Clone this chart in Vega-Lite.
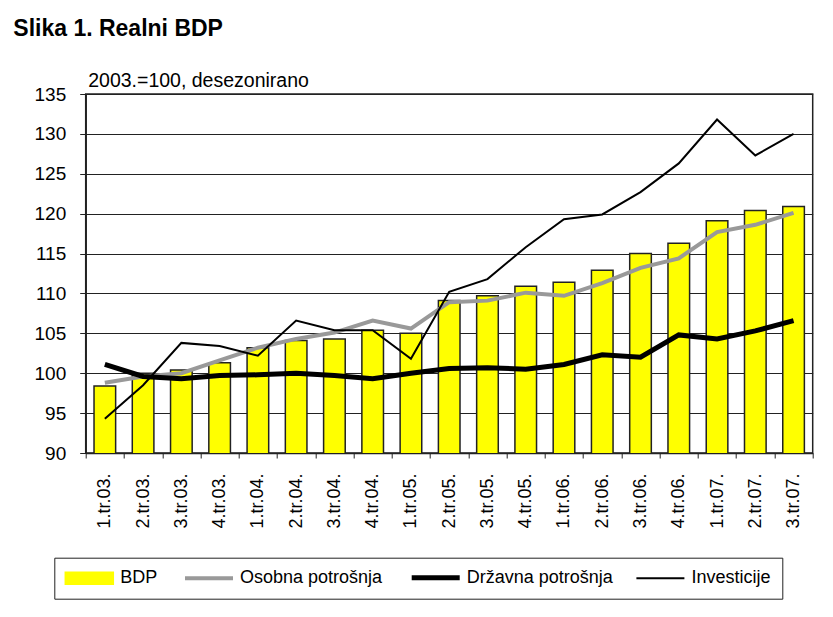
{
  "$schema": "https://vega.github.io/schema/vega-lite/v6.json",
  "width": 727,
  "height": 359,
  "autosize": {"type": "none"},
  "padding": {"left": 85.7, "top": 94, "right": 20.3, "bottom": 164},
  "background": "white",
  "title": {
    "text": "Slika 1. Realni BDP",
    "anchor": "start",
    "frame": "group",
    "font": "Liberation Sans",
    "fontSize": 23,
    "fontWeight": "bold",
    "color": "black",
    "baseline": "alphabetic",
    "dx": -72.4,
    "offset": 11
  },
  "data": {
    "values": [
      {"q": "1.tr.03.", "series": "BDP", "value": 98.4},
      {"q": "2.tr.03.", "series": "BDP", "value": 100.0},
      {"q": "3.tr.03.", "series": "BDP", "value": 100.4},
      {"q": "4.tr.03.", "series": "BDP", "value": 101.3},
      {"q": "1.tr.04.", "series": "BDP", "value": 103.2},
      {"q": "2.tr.04.", "series": "BDP", "value": 104.1},
      {"q": "3.tr.04.", "series": "BDP", "value": 104.3},
      {"q": "4.tr.04.", "series": "BDP", "value": 105.4},
      {"q": "1.tr.05.", "series": "BDP", "value": 105.0},
      {"q": "2.tr.05.", "series": "BDP", "value": 109.1},
      {"q": "3.tr.05.", "series": "BDP", "value": 109.7},
      {"q": "4.tr.05.", "series": "BDP", "value": 110.9},
      {"q": "1.tr.06.", "series": "BDP", "value": 111.4},
      {"q": "2.tr.06.", "series": "BDP", "value": 112.9},
      {"q": "3.tr.06.", "series": "BDP", "value": 115.0},
      {"q": "4.tr.06.", "series": "BDP", "value": 116.3},
      {"q": "1.tr.07.", "series": "BDP", "value": 119.1},
      {"q": "2.tr.07.", "series": "BDP", "value": 120.4},
      {"q": "3.tr.07.", "series": "BDP", "value": 120.9},
      {"q": "1.tr.03.", "series": "Osobna potrošnja", "value": 98.8},
      {"q": "2.tr.03.", "series": "Osobna potrošnja", "value": 99.6},
      {"q": "3.tr.03.", "series": "Osobna potrošnja", "value": 100.0},
      {"q": "4.tr.03.", "series": "Osobna potrošnja", "value": 101.6},
      {"q": "1.tr.04.", "series": "Osobna potrošnja", "value": 103.2},
      {"q": "2.tr.04.", "series": "Osobna potrošnja", "value": 104.3},
      {"q": "3.tr.04.", "series": "Osobna potrošnja", "value": 105.1},
      {"q": "4.tr.04.", "series": "Osobna potrošnja", "value": 106.6},
      {"q": "1.tr.05.", "series": "Osobna potrošnja", "value": 105.6},
      {"q": "2.tr.05.", "series": "Osobna potrošnja", "value": 108.9},
      {"q": "3.tr.05.", "series": "Osobna potrošnja", "value": 109.1},
      {"q": "4.tr.05.", "series": "Osobna potrošnja", "value": 110.1},
      {"q": "1.tr.06.", "series": "Osobna potrošnja", "value": 109.7},
      {"q": "2.tr.06.", "series": "Osobna potrošnja", "value": 111.3},
      {"q": "3.tr.06.", "series": "Osobna potrošnja", "value": 113.2},
      {"q": "4.tr.06.", "series": "Osobna potrošnja", "value": 114.4},
      {"q": "1.tr.07.", "series": "Osobna potrošnja", "value": 117.7},
      {"q": "2.tr.07.", "series": "Osobna potrošnja", "value": 118.6},
      {"q": "3.tr.07.", "series": "Osobna potrošnja", "value": 120.1},
      {"q": "1.tr.03.", "series": "Državna potrošnja", "value": 101.1},
      {"q": "2.tr.03.", "series": "Državna potrošnja", "value": 99.6},
      {"q": "3.tr.03.", "series": "Državna potrošnja", "value": 99.3},
      {"q": "4.tr.03.", "series": "Državna potrošnja", "value": 99.7},
      {"q": "1.tr.04.", "series": "Državna potrošnja", "value": 99.8},
      {"q": "2.tr.04.", "series": "Državna potrošnja", "value": 100.0},
      {"q": "3.tr.04.", "series": "Državna potrošnja", "value": 99.7},
      {"q": "4.tr.04.", "series": "Državna potrošnja", "value": 99.3},
      {"q": "1.tr.05.", "series": "Državna potrošnja", "value": 100.0},
      {"q": "2.tr.05.", "series": "Državna potrošnja", "value": 100.6},
      {"q": "3.tr.05.", "series": "Državna potrošnja", "value": 100.7},
      {"q": "4.tr.05.", "series": "Državna potrošnja", "value": 100.5},
      {"q": "1.tr.06.", "series": "Državna potrošnja", "value": 101.1},
      {"q": "2.tr.06.", "series": "Državna potrošnja", "value": 102.3},
      {"q": "3.tr.06.", "series": "Državna potrošnja", "value": 102.0},
      {"q": "4.tr.06.", "series": "Državna potrošnja", "value": 104.8},
      {"q": "1.tr.07.", "series": "Državna potrošnja", "value": 104.3},
      {"q": "2.tr.07.", "series": "Državna potrošnja", "value": 105.3},
      {"q": "3.tr.07.", "series": "Državna potrošnja", "value": 106.6},
      {"q": "1.tr.03.", "series": "Investicije", "value": 94.3},
      {"q": "2.tr.03.", "series": "Investicije", "value": 98.5},
      {"q": "3.tr.03.", "series": "Investicije", "value": 103.8},
      {"q": "4.tr.03.", "series": "Investicije", "value": 103.4},
      {"q": "1.tr.04.", "series": "Investicije", "value": 102.2},
      {"q": "2.tr.04.", "series": "Investicije", "value": 106.6},
      {"q": "3.tr.04.", "series": "Investicije", "value": 105.4},
      {"q": "4.tr.04.", "series": "Investicije", "value": 105.4},
      {"q": "1.tr.05.", "series": "Investicije", "value": 101.8},
      {"q": "2.tr.05.", "series": "Investicije", "value": 110.2},
      {"q": "3.tr.05.", "series": "Investicije", "value": 111.8},
      {"q": "4.tr.05.", "series": "Investicije", "value": 115.8},
      {"q": "1.tr.06.", "series": "Investicije", "value": 119.3},
      {"q": "2.tr.06.", "series": "Investicije", "value": 119.9},
      {"q": "3.tr.06.", "series": "Investicije", "value": 122.7},
      {"q": "4.tr.06.", "series": "Investicije", "value": 126.3},
      {"q": "1.tr.07.", "series": "Investicije", "value": 131.8},
      {"q": "2.tr.07.", "series": "Investicije", "value": 127.3},
      {"q": "3.tr.07.", "series": "Investicije", "value": 130.0}
    ]
  },
  "encoding": {
    "x": {
      "field": "q",
      "type": "nominal",
      "sort": null,
      "scale": {"paddingInner": 0, "paddingOuter": 0},
      "axis": {
        "title": null,
        "labelAngle": -90,
        "labelFontSize": 18,
        "labelPadding": 15,
        "labelColor": "black",
        "labelOverlap": false,
        "tickSize": 5,
        "tickBand": "extent",
        "tickColor": "#222",
        "domainColor": "#222",
        "domainWidth": 1.5,
        "grid": false
      }
    },
    "y": {
      "field": "value",
      "type": "quantitative",
      "scale": {"domain": [90, 135], "nice": false, "zero": false},
      "axis": {
        "values": [90, 95, 100, 105, 110, 115, 120, 125, 130, 135],
        "title": "2003.=100, desezonirano",
        "titleAngle": 0,
        "titleAlign": "left",
        "titleBaseline": "alphabetic",
        "titleX": 2,
        "titleY": -8,
        "titleFontSize": 19.5,
        "titleFontWeight": "normal",
        "titleColor": "black",
        "labelFontSize": 19,
        "labelPadding": 14,
        "labelColor": "black",
        "labelOverlap": false,
        "tickSize": 6,
        "tickColor": "#222",
        "domainColor": "#222",
        "domainWidth": 1.5,
        "grid": true,
        "gridColor": "#222",
        "gridWidth": 1
      }
    },
    "color": {
      "field": "series",
      "type": "nominal",
      "scale": {
        "domain": ["BDP", "Osobna potrošnja", "Državna potrošnja", "Investicije"],
        "range": ["#FFFF00", "#999999", "#000000", "#000000"]
      },
      "legend": {
        "orient": "none",
        "legendX": -31.4,
        "legendY": 463.7,
        "direction": "horizontal",
        "title": null,
        "labelFontSize": 18,
        "labelColor": "black",
        "labelOffset": 37,
        "columnPadding": 18.7,
        "symbolSize": 2304,
        "padding": 11,
        "strokeColor": "#222",
        "fillColor": "white",
        "encode": {
          "symbols": {
            "update": {
              "shape": {"signal": "datum.value === 'BDP' ? 'M-0.375,-0.25H1.625V0.25H-0.375Z' : 'M-0.375,0H1.625'"},
              "fill": {"signal": "datum.value === 'BDP' ? '#FFFF00' : 'transparent'"},
              "stroke": {"signal": "datum.value === 'BDP' ? '#222' : (datum.value === 'Osobna potrošnja' ? '#999999' : '#000000')"},
              "strokeWidth": {"signal": "datum.value === 'BDP' ? 1.5 : (datum.value === 'Osobna potrošnja' ? 4 : (datum.value === 'Državna potrošnja' ? 5 : 2))"}
            }
          }
        }
      }
    }
  },
  "layer": [
    {
      "transform": [{"filter": "datum.series === 'BDP'"}],
      "mark": {"type": "bar", "width": {"band": 0.565}, "stroke": "#222", "strokeWidth": 1.5, "clip": true}
    },
    {
      "transform": [{"filter": "datum.series === 'Osobna potrošnja'"}],
      "mark": {"type": "line", "strokeWidth": 4}
    },
    {
      "transform": [{"filter": "datum.series === 'Državna potrošnja'"}],
      "mark": {"type": "line", "strokeWidth": 5}
    },
    {
      "transform": [{"filter": "datum.series === 'Investicije'"}],
      "mark": {"type": "line", "strokeWidth": 2}
    }
  ],
  "config": {
    "font": "Liberation Sans",
    "view": {"stroke": "#222", "strokeWidth": 1.5}
  }
}
